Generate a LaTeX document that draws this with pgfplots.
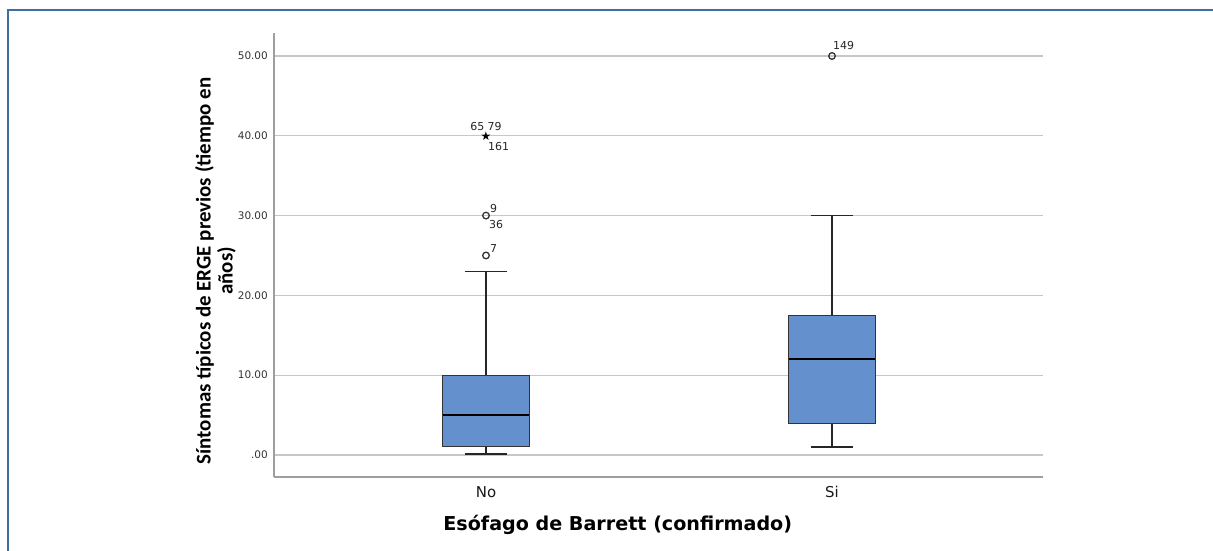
\documentclass[border=0pt]{standalone}
\usepackage{fontspec}
\setmainfont{DejaVu Sans}
\newfontfamily\calib{Carlito}
\usepackage{pgfplots}
\pgfplotsset{compat=1.18}
\definecolor{boxblue}{RGB}{100,144,205}
\definecolor{frameblue}{RGB}{62,110,163}
\begin{document}
\begin{tikzpicture}
\useasboundingbox (-274bp,-74bp) rectangle (939bp,477bp);
\draw[frameblue, line width=2bp] (-266bp,-74bp) -- (-266bp,466.5bp) -- (939bp,466.5bp);
\begin{axis}[
  at={(0,0)}, anchor=south west, scale only axis, width=769bp, height=444bp,
  xmin=0.3873, xmax=2.6098, ymin=-2.76, ymax=52.88,
  axis lines=left, axis line style={-, draw=black!38, line width=1.3bp},
  xtick={1,2}, xticklabels={No,Si},
  ytick={0,10,20,30,40,50}, yticklabels={.00,10.00,20.00,30.00,40.00,50.00},
  major tick length=0pt, tick style={draw=none},
  ymajorgrids, grid style={draw=black!22, line width=1.1bp},
  yticklabel style={font=\fontsize{10.5}{12}\selectfont, text=black!80, inner sep=0pt, xshift=-6bp},
  xticklabel style={font=\fontsize{15}{17}\selectfont, text=black!90, inner sep=0pt, yshift=-9bp},
  every axis y label/.style={at={(rel axis cs:0,0.464)}, rotate=90, anchor=south, yshift=38bp,
    align=center, inner sep=0pt, font=\fontsize{21}{22}\calib\bfseries},
  every axis x label/.style={at={(rel axis cs:0.447,0)}, anchor=center, yshift=-48bp,
    inner sep=0pt, font=\fontsize{19.2}{21}\selectfont\bfseries},
  ylabel={Síntomas típicos de ERGE previos (tiempo en\\años)},
  xlabel={Esófago de Barrett (confirmado)},
  clip=false,
  whisk/.style={draw=black!85, line width=1.7bp},
  boxs/.style={draw=black!80, line width=1bp, fill=boxblue},
  med/.style={draw=black, line width=2.2bp},
]
% No: whiskers 0.15 -- 23, box 1 -- 10, median 5
\addplot[whisk] coordinates {(1,0.15) (1,1)};
\addplot[whisk] coordinates {(1,10) (1,23)};
\addplot[whisk] coordinates {(0.939,0.15) (1.061,0.15)};
\addplot[whisk] coordinates {(0.939,23) (1.061,23)};
\addplot[boxs] coordinates {(0.8745,1) (1.1255,1) (1.1255,10) (0.8745,10) (0.8745,1)} -- cycle;
\addplot[med] coordinates {(0.8745,5) (1.1255,5)};
% Si: whiskers 1 -- 30, box 4 -- 17.5, median 12
\addplot[whisk] coordinates {(2,1) (2,4)};
\addplot[whisk] coordinates {(2,17.5) (2,30)};
\addplot[whisk] coordinates {(1.939,1) (2.061,1)};
\addplot[whisk] coordinates {(1.939,30) (2.061,30)};
\addplot[boxs] coordinates {(1.8745,4) (2.1255,4) (2.1255,17.5) (1.8745,17.5) (1.8745,4)} -- cycle;
\addplot[med] coordinates {(1.8745,12) (2.1255,12)};
% outliers
\addplot[only marks, mark=o, mark size=3.3bp, mark options={draw=black!80, line width=1.3bp}]
  coordinates {(1,30) (1,25) (2,50)};
\addplot[only marks, mark=text, text mark={\fontsize{12}{12}\selectfont ★}]
  coordinates {(1,40)};
\begin{scope}[every node/.style={font=\fontsize{11}{12}\selectfont, text=black!85, inner sep=0pt}]
\node[anchor=south] at ([yshift=5bp]axis cs:1,40) {65 79};
\node[anchor=north west] at ([xshift=2bp,yshift=-6bp]axis cs:1,40) {161};
\node[anchor=south west] at ([xshift=4bp,yshift=3bp]axis cs:1,30) {9};
\node[anchor=north west] at ([xshift=3bp,yshift=-5bp]axis cs:1,30) {36};
\node[anchor=south west] at ([xshift=4bp,yshift=3bp]axis cs:1,25) {7};
\node[anchor=south west] at ([xshift=1bp,yshift=6bp]axis cs:2,50) {149};
\end{scope}
\end{axis}
\end{tikzpicture}
\end{document}
